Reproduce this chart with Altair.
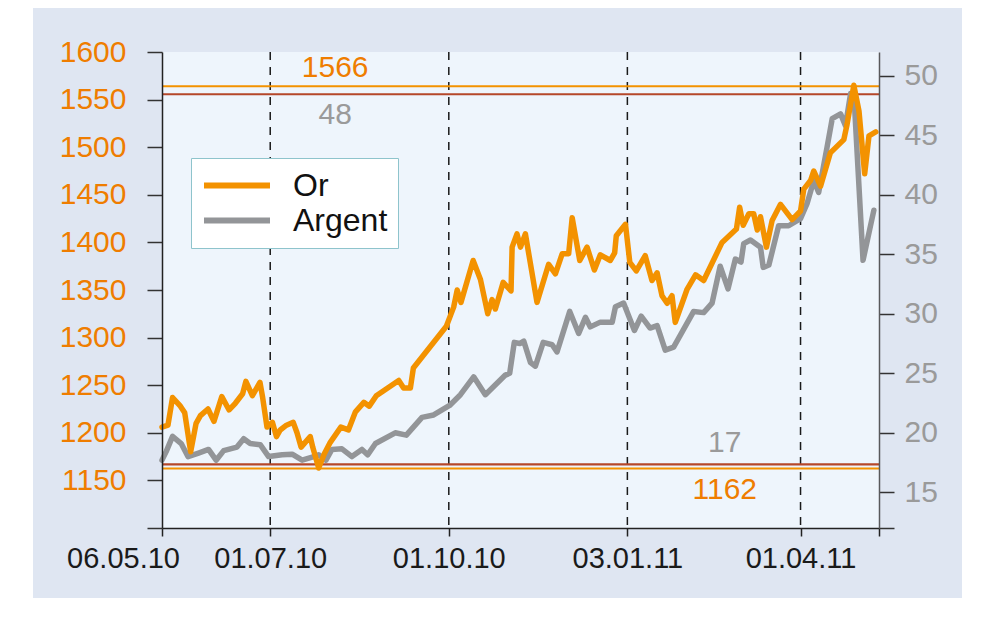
import pandas as pd
import altair as alt

# x is the trading-day index counted from 06.05.10 (weekdays only)
tick_days = [0, 40, 106, 172, 236]
tick_labels = ["06.05.10", "01.07.10", "01.10.10", "03.01.11", "01.04.11"]
last_day = 265

gold_day = [0, 2.2, 3.9, 6.8, 8.4, 10.6, 12.6, 14.2, 17, 19.2, 22.1, 24.8, 27.1, 29.8, 31,
            33.4, 36.2, 37.2, 38.8, 40.8, 42.3, 43.7, 46, 48.5, 49.9, 51.4, 54.8, 55.7, 57.9,
            60, 62.2, 66.1, 68.9, 71.5, 74.6, 76.6, 79.2, 87.5, 89.3, 91.8, 92.9, 105.1, 107.8,
            109.1, 110.5, 115, 117.7, 120.4, 122, 123.2, 126.1, 129, 129.4, 131.2, 132.5, 134.3,
            138.6, 142.9, 145.4, 147.9, 150.3, 151.6, 154.4, 157.1, 159.8, 162, 165.7, 167.3,
            167.9, 171.3, 172.9, 175.3, 178.6, 181.1, 183, 184.8, 186.7, 188.5, 189.7, 194.1,
            197.2, 200.2, 207, 212.3, 213.5, 214.8, 216.9, 218.7, 220, 221.2, 223.4, 225.5,
            228.6, 232.9, 236, 237.2, 239.7, 240.9, 243.4, 247, 252, 253.2, 255.7, 257.6, 259.7,
            261.3, 263.8]
gold_price = [1206, 1208, 1237, 1228, 1221, 1180, 1210, 1218, 1225, 1212, 1238, 1224, 1231, 1241,
              1254, 1239, 1253, 1237, 1206, 1211, 1196, 1203, 1208, 1211, 1200, 1185, 1196, 1185,
              1163, 1178, 1190, 1206, 1203, 1222, 1232, 1228, 1239, 1255, 1247, 1247, 1268, 1312,
              1332, 1350, 1337, 1381, 1361, 1325, 1340, 1330, 1358, 1349, 1395, 1409, 1395, 1409,
              1337, 1377, 1367, 1388, 1388, 1426, 1381, 1395, 1371, 1387, 1381, 1389, 1407, 1419,
              1379, 1370, 1386, 1360, 1368, 1344, 1336, 1344, 1316, 1351, 1366, 1360, 1400, 1414,
              1437, 1418, 1430, 1430, 1413, 1427, 1395, 1423, 1440, 1424, 1433, 1456, 1465, 1475,
              1459, 1494, 1508, 1524, 1565, 1538, 1472, 1512, 1516]

silver_day = [0, 1.5, 3.9, 7.1, 9.6, 13.5, 17.2, 20, 22.8, 27.7, 30.2, 32.6, 36.3, 39.4, 44.4,
              48.1, 51.8, 55.5, 57.9, 60.6, 62.8, 66.5, 70.2, 73.9, 76, 78.9, 86.2, 90.3, 96.1,
              100.4, 106.3, 110.3, 115.2, 119.5, 126.9, 128.5, 130.2, 132.2, 133.7, 136.2, 138,
              140.9, 144.2, 146, 150.7, 154, 156.5, 158.3, 162, 166.4, 167.6, 170.6, 174.6, 177.1,
              180.4, 183, 186, 189.1, 196.5, 200.2, 203.3, 206.3, 209.2, 211.9, 214, 215, 217.5,
              221.2, 222.2, 224.3, 227.9, 231.6, 236, 238.4, 240.9, 242.7, 245.8, 247.7, 250.8,
              252.6, 254.5, 256, 259.1, 263.1]
silver_price = [17.7, 18.4, 19.7, 19.1, 18.0, 18.3, 18.6, 17.7, 18.5, 18.8, 19.5, 19.1, 19.0, 18.0,
                18.15, 18.2, 17.7, 17.95, 18.15, 17.7, 18.6, 18.65, 18.0, 18.6, 18.15, 19.1, 20.0,
                19.8, 21.3, 21.5, 22.3, 23.2, 24.7, 23.2, 24.85, 25.0, 27.6, 27.5, 27.7, 25.9, 25.6,
                27.6, 27.4, 26.8, 30.2, 28.35, 29.7, 28.9, 29.3, 29.3, 30.6, 30.9, 28.6, 29.8, 28.8,
                29.0, 26.95, 27.2, 30.2, 30.1, 30.9, 34.0, 32.1, 34.6, 34.35, 35.9, 36.2, 35.6, 33.9,
                34.1, 37.4, 37.4, 38.0, 39.25, 41.2, 40.2, 44.0, 46.4, 46.8, 45.8, 48.5, 47.3, 34.5,
                38.7]

# max / min reference lines and their labels
gold_levels = [1564, 1162.5]
gold_level_labels = ["1566", "1162"]
silver_levels = [48.45, 17.35]
silver_level_labels = ["48", "17"]
label_day = [64, 208]

GOLD = "#f39200"
GOLD_TXT = "#ef7d00"
SILVER = "#939598"
SILVER_TXT = "#9a9a9a"
LEVEL_RED = "#b5472a"
FONT = "Liberation Sans"
W, H = 717, 476

gold_df = pd.DataFrame({"day": gold_day, "price": gold_price, "series": "Or"})
silver_df = pd.DataFrame({"day": silver_day, "price": silver_price, "series": "Argent"})

x_expr = " : ".join(f"datum.value == {d} ? '{l}'" for d, l in zip(tick_days, tick_labels)) + " : ''"
x_enc = alt.X("day:Q", title=None,
              scale=alt.Scale(domain=[0, last_day], nice=False, zero=False),
              axis=alt.Axis(values=tick_days + [last_day], labelExpr=x_expr, grid=False,
                            labelFont=FONT, labelFontSize=29, labelColor="#1a1a1a",
                            labelFlush=False, labelOverlap=False, labelPadding=8,
                            labelOffset={"condition": {"test": "datum.value == 0", "value": -39}, "value": 0},
                            tickSize=8, tickWidth=1.5, tickColor="#222", domainColor="#222",
                            domainWidth=1.5, zindex=1))

gold_y = alt.Y("price:Q", title=None,
               scale=alt.Scale(domain=[1100, 1600], nice=False, zero=False),
               axis=alt.Axis(orient="left", values=list(range(1100, 1601, 50)), format="d",
                             labelExpr="datum.value == 1100 ? '' : datum.label", grid=False,
                             labelFont=FONT, labelFontSize=30, labelColor=GOLD_TXT,
                             labelPadding=21, tickSize=15, tickWidth=1.5, tickColor="#333",
                             domainColor="#222", domainWidth=1.5, zindex=1))

silver_y = alt.Y("price:Q", title=None,
                 scale=alt.Scale(domain=[12, 52], nice=False, zero=False),
                 axis=alt.Axis(orient="right", values=[12, 15, 20, 25, 30, 35, 40, 45, 50],
                               labelExpr="datum.value == 12 ? '' : datum.label", grid=False,
                               labelFont=FONT, labelFontSize=30, labelColor=SILVER_TXT,
                               labelPadding=10, tickSize=15, tickWidth=1.5, tickColor="#333",
                               domainColor="#58595b", domainWidth=1.5, zindex=1))

color_enc = alt.Color("series:N",
                      scale=alt.Scale(domain=["Or", "Argent"], range=[GOLD, SILVER]),
                      legend=alt.Legend(title=None, orient="none", legendX=29, legendY=106,
                                        fillColor="white", strokeColor="#8ec4cc", padding=10,
                                        symbolType="stroke", symbolSize=4356, symbolStrokeWidth=6,
                                        clipHeight=35,
                                        labelFont=FONT, labelFontSize=32, labelColor="#111",
                                        labelOffset=20, rowPadding=0, zindex=2))

# panel decoration
one = pd.DataFrame({"k": [0]})
outer = alt.Chart(one).mark_rect(color="#dfe6f2").encode(
    x=alt.value(-129), x2=alt.value(W + 83), y=alt.value(-44), y2=alt.value(H + 70))
inner = alt.Chart(one).mark_rect(color="#eef5fc").encode(
    x=alt.value(0), x2=alt.value(W), y=alt.value(0), y2=alt.value(H))
vrules = alt.Chart(pd.DataFrame({"day": tick_days[1:]})).mark_rule(
    color="#1a1a1a", strokeWidth=1.5, strokeDash=[8, 7]).encode(x=x_enc)
deco = alt.layer(outer, inner, vrules)

def level_layers(levels, labels, y_enc, line_color):
    lv = pd.DataFrame({"price": levels})
    rules = alt.Chart(lv).mark_rule(color=line_color, strokeWidth=2.2).encode(y=y_enc)
    top = pd.DataFrame({"day": [label_day[0]], "price": [levels[0]], "label": [labels[0]]})
    bot = pd.DataFrame({"day": [label_day[1]], "price": [levels[1]], "label": [labels[1]]})
    return rules, top, bot

g_rules, g_top, g_bot = level_layers(gold_levels, gold_level_labels, gold_y, GOLD)
s_rules, s_top, s_bot = level_layers(silver_levels, silver_level_labels, silver_y, LEVEL_RED)

txt = dict(font=FONT, fontSize=30, baseline="middle", align="center")
g_text_top = alt.Chart(g_top).mark_text(color=GOLD_TXT, dy=-18, **txt).encode(x=x_enc, y=gold_y, text="label:N")
g_text_bot = alt.Chart(g_bot).mark_text(color=GOLD_TXT, dy=21, **txt).encode(x=x_enc, y=gold_y, text="label:N")
s_text_top = alt.Chart(s_top).mark_text(color=SILVER_TXT, dy=21, **txt).encode(x=x_enc, y=silver_y, text="label:N")
s_text_bot = alt.Chart(s_bot).mark_text(color=SILVER_TXT, dy=-21, **txt).encode(x=x_enc, y=silver_y, text="label:N")

line_style = dict(strokeWidth=5.5, strokeJoin="round", strokeCap="round")
silver_line = alt.Chart(silver_df).mark_line(**line_style).encode(x=x_enc, y=silver_y, color=color_enc)
gold_line = alt.Chart(gold_df).mark_line(**line_style).encode(x=x_enc, y=gold_y, color=color_enc)

silver_group = alt.layer(s_rules, silver_line, s_text_top, s_text_bot)
gold_group = alt.layer(g_rules, gold_line, g_text_top, g_text_bot)

chart = alt.layer(deco, silver_group, gold_group).resolve_scale(y="independent").properties(
    width=W, height=H, background="white",
    padding={"left": 154, "top": 44, "right": 85, "bottom": 72},
    autosize=alt.AutoSizeParams(type="none"),
).configure_view(strokeWidth=0)

chart.save("out.html", embed_options={"renderer": "svg", "actions": False})
